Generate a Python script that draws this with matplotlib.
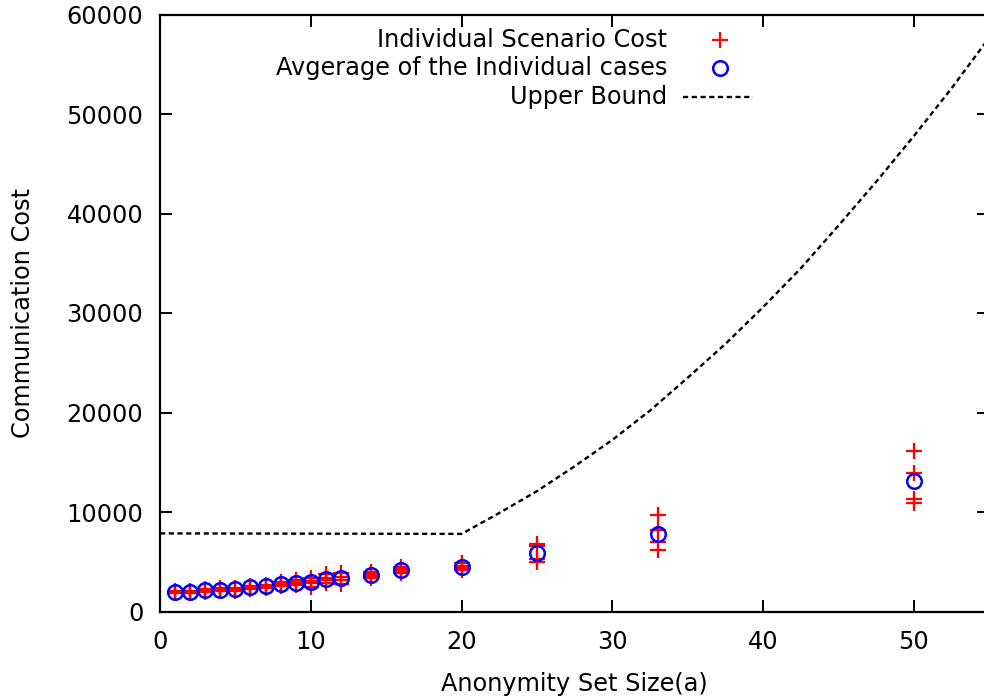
import matplotlib
matplotlib.use("Agg")
import matplotlib.pyplot as plt
import numpy as np

# ── Data ──
set_sizes = [1, 2, 3, 4, 5, 6, 7, 8, 9, 10, 11, 12, 14, 16, 20, 25, 33, 50]

scenario_costs = [
    [1890, 1960, 2010, 2090],
    [1880, 1970, 2020, 2090],
    [2010, 2120, 2200, 2310],
    [2020, 2110, 2190, 2320],
    [2110, 2230, 2290, 2410],
    [2280, 2390, 2470, 2580],
    [2400, 2530, 2600, 2710],
    [2520, 2700, 2850, 2970],
    [2620, 2830, 2980, 3170],
    [2500, 2850, 3050, 3400],
    [2820, 3150, 3390, 3720],
    [2800, 3200, 3460, 3900],
    [3320, 3600, 3740, 4020],
    [3850, 4100, 4250, 4480],
    [4180, 4420, 4570, 4830],
    [5005, 5246, 6613, 6750],
    [6181, 7015, 8191, 9698],
    [10875, 11280, 13950, 16160],
]

bound_x = [0, 20, 22.5, 25, 27.5, 30, 32.5, 35, 37.5, 40, 42.5, 45, 47.5, 50, 52.5, 55]
bound_y = [7850, 7800, 9900, 12100, 14600, 17250, 20200, 23500, 26900,
           30600, 34500, 38800, 43200, 47800, 52600, 57700]

x_ticks = [0, 10, 20, 30, 40, 50]
y_ticks = [0, 10000, 20000, 30000, 40000, 50000, 60000]

legend_labels = ["Individual Scenario Cost", "Avgerage of the Individual cases", "Upper Bound"]

# ── Figure ──
W, H = 984, 697
fig = plt.figure(figsize=(W / 100, H / 100), dpi=100)
plt.rcParams["font.family"] = "DejaVu Sans"
fs = 17.3

ax = fig.add_axes([160 / W, 85.5 / H, 829.4 / W, 597 / H])

scen_x = [x for x, vals in zip(set_sizes, scenario_costs) for _ in vals]
scen_y = [v for vals in scenario_costs for v in vals]
avg_y = [np.mean(vals) for vals in scenario_costs]

plus_style = dict(linestyle="none", marker="+", color="#ff0000", markersize=11.5, markeredgewidth=1.6)
circ_style = dict(linestyle="none", marker="o", markerfacecolor="none", markeredgecolor="#0000ff",
                  markersize=10.5, markeredgewidth=1.8)
line_style = dict(color="black", linewidth=1.7, dashes=(2.2, 1.5))

ax.plot(scen_x, scen_y, **plus_style)
ax.plot(set_sizes, avg_y, **circ_style)
ax.plot(bound_x, bound_y, **line_style)

ax.set_xlim(0, 55)
ax.set_ylim(0, 60000)
ax.set_xticks(x_ticks)
ax.set_yticks(y_ticks)
ax.tick_params(direction="in", length=8.6, width=1.4, top=True, right=True, labelsize=fs)
ax.tick_params(axis="x", pad=13)
ax.tick_params(axis="y", pad=12)
for sp in ax.spines.values():
    sp.set_linewidth(1.6)

ax.set_xlabel("Anonymity Set Size(a)", fontsize=fs, labelpad=13)
ax.set_ylabel("Communication Cost", fontsize=fs, labelpad=23)

# ── Key, gnuplot style: right-aligned text, sample to the right ──
row_y = [40, 68, 97]
text_right = 667
sample_x = 720
for i, (label, yy) in enumerate(zip(legend_labels, row_y)):
    fy = 1 - yy / H
    fig.text(text_right / W, fy, label, ha="right", va="center", fontsize=fs)
    if i == 0:
        fig.add_artist(plt.Line2D([sample_x / W], [fy], transform=fig.transFigure, **plus_style))
    elif i == 1:
        fig.add_artist(plt.Line2D([sample_x / W], [fy], transform=fig.transFigure, **circ_style))
    else:
        fig.add_artist(plt.Line2D([683 / W, 753 / W], [fy, fy], transform=fig.transFigure, **line_style))

fig.savefig("out.png", dpi=100)
